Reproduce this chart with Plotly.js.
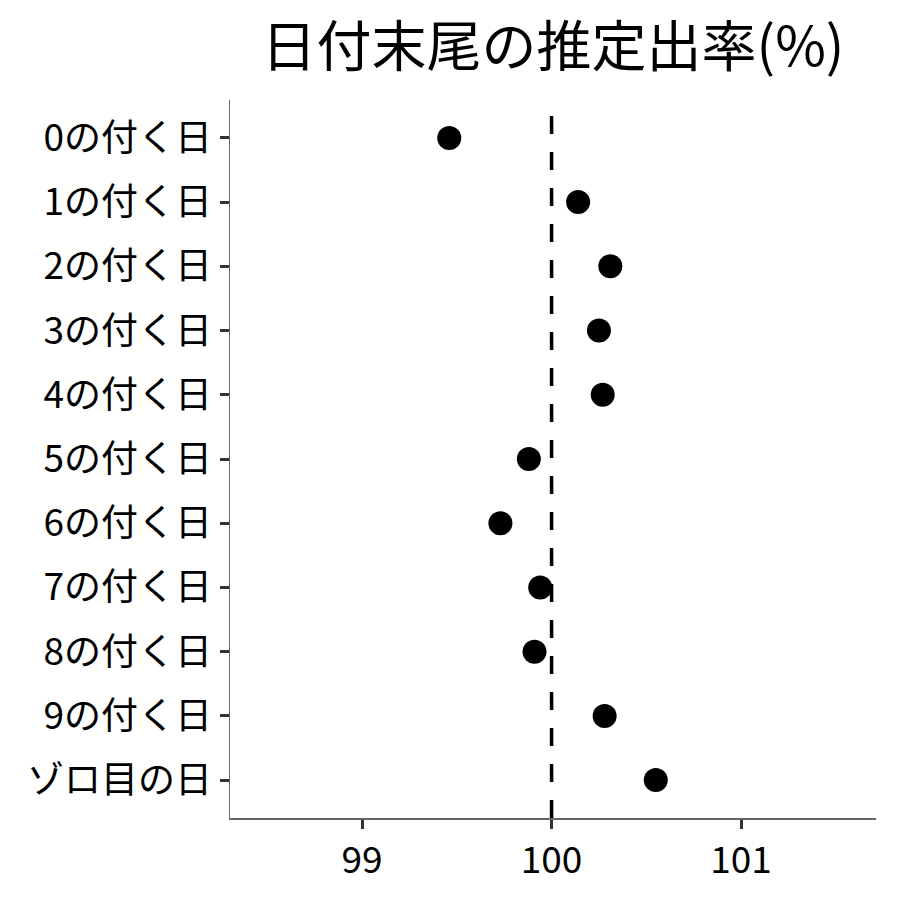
<!DOCTYPE html>
<html>
<head>
<meta charset="utf-8">
<script src="https://cdn.plot.ly/plotly-3.0.1.min.js"></script>
<style>html,body{margin:0;padding:0;background:#fff;}#chart{width:900px;height:900px;}</style>
</head>
<body>
<div id="chart"></div>
<script>
const categories = ["0の付く日","1の付く日","2の付く日","3の付く日","4の付く日","5の付く日","6の付く日","7の付く日","8の付く日","9の付く日","ゾロ目の日"];
const rates = [99.46, 100.14, 100.31, 100.25, 100.27, 99.88, 99.73, 99.94, 99.91, 100.28, 100.55];
const referenceLine = 100;
const xTicks = [99, 100, 101];

const font = "'Noto Sans CJK JP', 'Noto Sans', sans-serif";

const trace = {
  type: 'scatter',
  mode: 'markers',
  x: rates,
  y: categories,
  marker: {color: '#000', size: 24},
  hoverinfo: 'x+y'
};

const layout = {
  width: 900, height: 900,
  margin: {l: 230, r: 24, t: 100, b: 82},
  paper_bgcolor: '#fff', plot_bgcolor: '#fff',
  showlegend: false,
  font: {family: font, color: '#000', size: 37},
  title: {
    text: '日付末尾の推定出率(%)',
    font: {family: font, size: 55, color: '#000'},
    x: 0.5, xref: 'paper', xanchor: 'center',
    y: 0.948, yref: 'container', yanchor: 'middle'
  },
  xaxis: {
    range: [98.303, 101.712],
    tickvals: xTicks,
    ticktext: xTicks.map(String),
    showgrid: false, zeroline: false,
    showline: true, linecolor: '#666', linewidth: 1.5,
    ticks: 'outside', ticklen: 9, tickwidth: 3, tickcolor: '#333',
    tickfont: {family: font, size: 37, color: '#000'},
    ticklabelstandoff: 0
  },
  yaxis: {
    type: 'category',
    categoryorder: 'array', categoryarray: categories,
    range: [10.59, -0.59],
    showgrid: false, zeroline: false,
    showline: true, linecolor: '#666', linewidth: 1.5,
    ticks: 'outside', ticklen: 9, tickwidth: 3, tickcolor: '#333',
    tickfont: {family: font, size: 37, color: '#000'},
    ticklabelstandoff: 0
  },
  shapes: [{
    type: 'line', xref: 'x', yref: 'paper',
    x0: referenceLine, x1: referenceLine, y0: 0, y1: 1,
    line: {color: '#000', width: 3.5, dash: '18px,18px'},
    layer: 'below'
  }]
};

Plotly.newPlot('chart', [trace], layout, {displayModeBar: false, staticPlot: true});
</script>
</body>
</html>
